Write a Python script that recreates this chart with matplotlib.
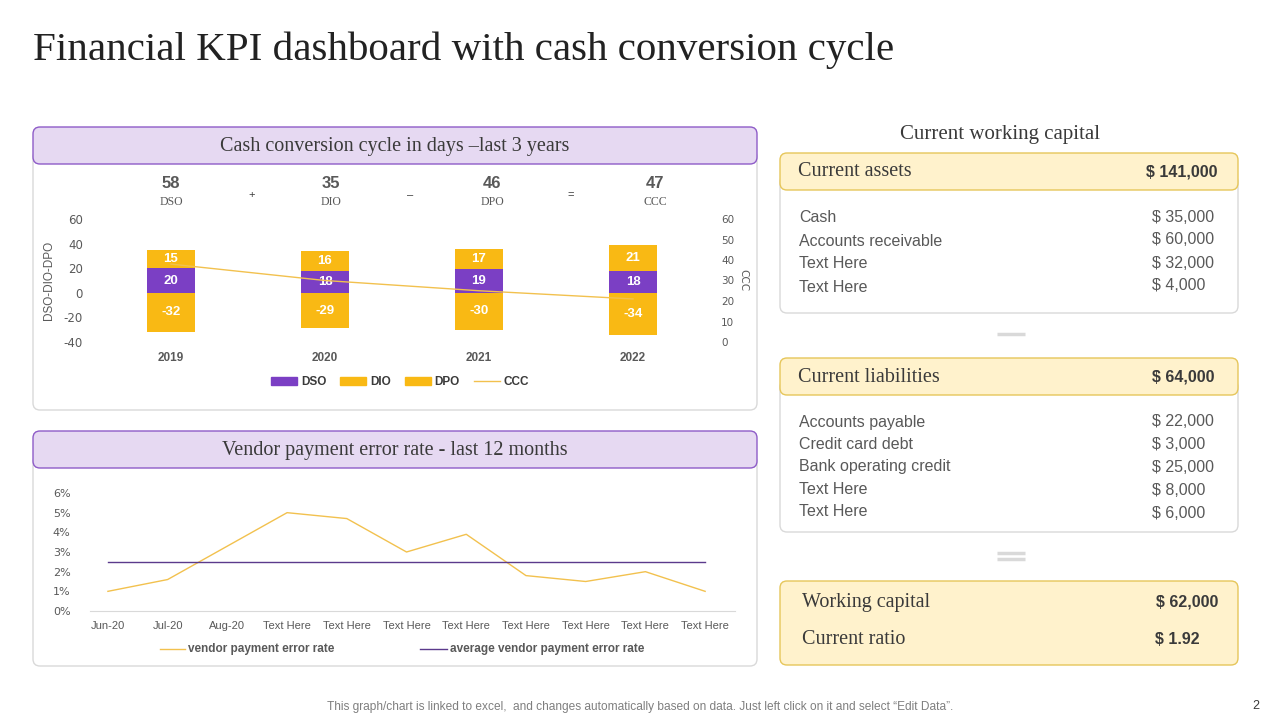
import numpy as np
import matplotlib.pyplot as plt
from matplotlib.patches import FancyBboxPatch, Patch
from matplotlib.lines import Line2D
from matplotlib.ticker import PercentFormatter

plt.rcParams["axes.unicode_minus"] = False

# ---- data ----
years = ["2019", "2020", "2021", "2022"]
dso = [20, 18, 19, 18]
dio = [15, 16, 17, 21]
dpo = [-32, -29, -30, -34]
ccc = [38, 30, 25, 21]
summary_vals = ["58", "35", "46", "47"]
summary_names = ["DSO", "DIO", "DPO", "CCC"]
summary_ops = ["+", "–", "="]

months = ["Jun-20", "Jul-20", "Aug-20", "Text Here", "Text Here", "Text Here",
          "Text Here", "Text Here", "Text Here", "Text Here", "Text Here"]
error_rate = [0.010, 0.016, 0.033, 0.050, 0.047, 0.030, 0.039, 0.018, 0.015, 0.020, 0.010]
avg_error_rate = [0.025] * len(months)

asset_items = ["Cash", "Accounts receivable", "Text Here", "Text Here"]
asset_vals = ["$ 35,000", "$ 60,000", "$ 32,000", "$ 4,000"]
liab_items = ["Accounts payable", "Credit card debt", "Bank operating credit", "Text Here", "Text Here"]
liab_vals = ["$ 22,000", "$ 3,000", "$ 25,000", "$ 8,000", "$ 6,000"]
total_assets = "$ 141,000"
total_liab = "$ 64,000"
working_capital = "$ 62,000"
current_ratio = "$ 1.92"

PURPLE = "#7B3FC4"
YELLOW = "#F9B914"
LINE_Y = "#F2C14E"
SERIF = "Liberation Serif"
SANS = "Liberation Sans"
DARK = "#3A3A3A"
GREY = "#595959"

fig = plt.figure(figsize=(12.8, 7.2), dpi=100)
bg = fig.add_axes([0, 0, 1, 1])
bg.set_xlim(0, 1280)
bg.set_ylim(720, 0)
bg.axis("off")


def box(x0, y0, x1, y1, fc, ec, r=7, lw=1.0):
    bg.add_patch(FancyBboxPatch((x0, y0), x1 - x0, y1 - y0,
                                boxstyle=f"round,pad=0,rounding_size={r}",
                                fc=fc, ec=ec, lw=lw))


def px_axes(x0, y0, x1, y1):
    return fig.add_axes([x0 / 1280, 1 - y1 / 720, (x1 - x0) / 1280, (y1 - y0) / 720])


bg.text(33, 50, "Financial KPI dashboard with cash conversion cycle", fontsize=29.5,
        family=SERIF, color="#222222", va="center", ha="left")

# left panels
box(33, 150, 757, 410, "white", "#D9D9D9")
box(33, 127, 757, 164, "#E6D9F2", "#8E5CC8")
bg.text(395, 146, "Cash conversion cycle in days –last 3 years", fontsize=14.5,
        family=SERIF, color=DARK, ha="center", va="center")
box(33, 455, 757, 666, "white", "#D9D9D9")
box(33, 431, 757, 468, "#E6D9F2", "#8E5CC8")
bg.text(395, 450, "Vendor payment error rate - last 12 months", fontsize=14.5,
        family=SERIF, color=DARK, ha="center", va="center")

# summary row above bar chart
for xv, v, n in zip([171, 331, 492, 655], summary_vals, summary_names):
    bg.text(xv, 184, v, fontsize=12, fontweight="bold", family=SANS, color=GREY,
            ha="center", va="center")
    bg.text(xv, 202, n, fontsize=8.5, family=SERIF, color=GREY, ha="center", va="center")
for xv, op in zip([252, 410, 571], summary_ops):
    bg.text(xv, 195, op, fontsize=8, family=SANS, color=DARK, ha="center", va="center")

# bar chart
ax = px_axes(94, 219, 710, 342)
x = np.arange(len(years))
w = 0.31
ax.bar(x, dso, w, color=PURPLE, label="DSO", zorder=2)
ax.bar(x, dio, w, bottom=dso, color=YELLOW, label="DIO", zorder=2)
ax.bar(x, dpo, w, color=YELLOW, label="DPO", zorder=2)
for i in range(len(years)):
    ax.text(x[i], dso[i] / 2, str(dso[i]), color="white", fontweight="bold",
            fontsize=9.5, ha="center", va="center", family=SANS, zorder=4)
    ax.text(x[i], dso[i] + dio[i] / 2, str(dio[i]), color="white", fontweight="bold",
            fontsize=9.5, ha="center", va="center", family=SANS, zorder=4)
    ax.text(x[i], dpo[i] / 2, str(dpo[i]), color="white", fontweight="bold",
            fontsize=9.5, ha="center", va="center", family=SANS, zorder=4)
ax.set_xlim(-0.5, 3.5)
ax.set_ylim(-40, 60)
ax.set_yticks([-40, -20, 0, 20, 40, 60])
ax.set_xticks(x)
ax.set_xticklabels(years, fontweight="bold", fontsize=9.5, color=GREY, family=SANS)
ax.tick_params(length=0, labelsize=8.5, labelcolor=GREY, pad=8)
ax.tick_params(axis="x", pad=7)
for s in ax.spines.values():
    s.set_visible(False)
ax.set_ylabel("DSO-DIO-DPO", fontsize=8.5, color=GREY, family=SANS, labelpad=6)
ax.patch.set_alpha(0)
ax2 = ax.twinx()
ax2.plot(x, ccc, color=LINE_Y, lw=1.0, zorder=3)
ax2.set_ylim(0, 60)
ax2.set_yticks([0, 10, 20, 30, 40, 50, 60])
ax2.tick_params(length=0, labelsize=7.5, labelcolor=GREY, pad=8)
for s in ax2.spines.values():
    s.set_visible(False)
ax2.set_ylabel("CCC", fontsize=7.5, color=GREY, rotation=270, labelpad=10)
handles = [Patch(color=PURPLE, label="DSO"), Patch(color=YELLOW, label="DIO"),
           Patch(color=YELLOW, label="DPO"), Line2D([], [], color=LINE_Y, lw=1, label="CCC")]
fig.legend(handles=handles, loc="center", bbox_to_anchor=(400 / 1280, 1 - 382 / 720),
           ncol=4, frameon=False, prop={"family": SANS, "size": 8.5, "weight": "bold"},
           handlelength=2.2, handleheight=0.6, columnspacing=1.2, handletextpad=0.3,
           labelcolor=DARK)

# line chart
lx = px_axes(90, 493, 735, 611)
xi = np.arange(len(months))
lx.plot(xi, error_rate, color=LINE_Y, lw=1.0)
lx.plot(xi, avg_error_rate, color="#5B3A8C", lw=1.0)
lx.set_xlim(-0.3, 10.5)
lx.set_ylim(0, 0.06)
lx.set_yticks(np.arange(0, 0.061, 0.01))
lx.yaxis.set_major_formatter(PercentFormatter(1.0, decimals=0))
lx.set_xticks(xi)
lx.set_xticklabels(months, fontsize=9, color=GREY, family=SANS)
lx.tick_params(length=0, labelsize=8, labelcolor=GREY)
lx.tick_params(axis="y", pad=14)
lx.tick_params(axis="x", pad=7)
for k in ["top", "right", "left"]:
    lx.spines[k].set_visible(False)
lx.spines["bottom"].set_color("#D9D9D9")
lx.patch.set_alpha(0)
bg.plot([160, 185], [649, 649], color=LINE_Y, lw=1.0)
bg.text(188, 649, "vendor payment error rate", fontsize=8.5, fontweight="bold",
        color=GREY, family=SANS, va="center")
bg.plot([420, 447], [649, 649], color="#5B3A8C", lw=1.0)
bg.text(450, 649, "average vendor payment error rate", fontsize=8.5, fontweight="bold",
        color=GREY, family=SANS, va="center")

# right side
YFILL = "#FFF2CC"
YEDGE = "#E6C65A"
bg.text(1000, 134, "Current working capital", fontsize=15, family=SERIF,
        color=DARK, ha="center", va="center")
box(780, 175, 1238, 313, "white", "#D9D9D9")
box(780, 153, 1238, 190, YFILL, YEDGE)
bg.text(798, 171, "Current assets", fontsize=14.5, family=SERIF, color=DARK, va="center")
bg.text(1217, 172, total_assets, fontsize=11.5, fontweight="bold", family=SANS,
        color=DARK, va="center", ha="right")
for i, (it, v) in enumerate(zip(asset_items, asset_vals)):
    y = 218 + i * 23
    bg.text(799, y, it, fontsize=11.5, family=SANS, color=GREY, va="center")
    bg.text(1152, y - 1, v, fontsize=11.5, family=SANS, color=GREY, va="center")
bg.plot([997, 1025], [334, 334], color="#D9D9D9", lw=2.5, solid_capstyle="butt")

box(780, 380, 1238, 532, "white", "#D9D9D9")
box(780, 358, 1238, 395, YFILL, YEDGE)
bg.text(798, 377, "Current liabilities", fontsize=14.5, family=SERIF, color=DARK, va="center")
bg.text(1214, 377, total_liab, fontsize=11.5, fontweight="bold", family=SANS,
        color=DARK, va="center", ha="right")
for i, (it, v) in enumerate(zip(liab_items, liab_vals)):
    bg.text(799, 422 + i * 22.5, it, fontsize=11.5, family=SANS, color=GREY, va="center")
    bg.text(1152, 421 + i * 23.2, v, fontsize=11.5, family=SANS, color=GREY, va="center")
bg.plot([997, 1025], [553, 553], color="#D9D9D9", lw=2.5, solid_capstyle="butt")
bg.plot([997, 1025], [559, 559], color="#D9D9D9", lw=2.5, solid_capstyle="butt")

box(780, 581, 1238, 665, YFILL, YEDGE)
bg.text(802, 603, "Working capital", fontsize=14.5, family=SERIF, color=DARK, va="center")
bg.text(1218, 602, working_capital, fontsize=11.5, fontweight="bold", family=SANS,
        color=DARK, va="center", ha="right")
bg.text(802, 640, "Current ratio", fontsize=14.5, family=SERIF, color=DARK, va="center")
bg.text(1200, 640, current_ratio, fontsize=11.5, fontweight="bold", family=SANS,
        color=DARK, va="center", ha="right")

bg.text(640, 707, "This graph/chart is linked to excel,  and changes automatically based on data. "
        "Just left click on it and select \u201cEdit Data\u201d.", fontsize=8.6, family=SANS,
        color="#7F7F7F", ha="center", va="center")
bg.text(1256, 706, "2", fontsize=9, family=SANS, color=DARK, ha="center", va="center")

fig.savefig("out.png", dpi=100)
